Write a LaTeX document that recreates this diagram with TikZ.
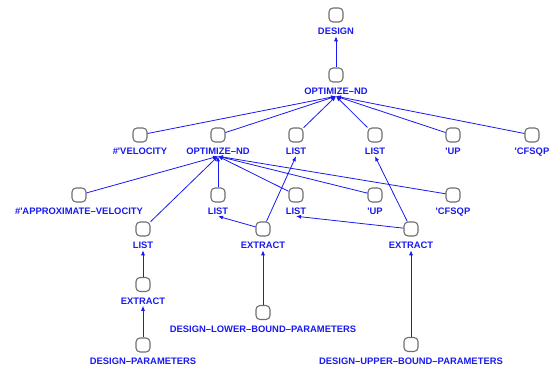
\documentclass[tikz,border=0pt]{standalone}
\usepackage{fontspec}
\newfontfamily\lblfont{Liberation Sans}
\usetikzlibrary{arrows.meta,positioning}
\definecolor{cb}{RGB}{25,25,240}
\definecolor{cg}{RGB}{112,112,112}
\newcommand{\dd}{\textendash}

\begin{document}
\begin{tikzpicture}[
  x=1pt, y=1pt,
  box/.style={draw=cg, fill=white, line width=1.1pt, rounded corners=4pt,
              minimum size=14pt, inner sep=0pt},
  lbl/.style={text=cb, font=\lblfont\bfseries\fontsize{9.4}{11}\selectfont,
              inner xsep=0pt, inner ysep=1.5pt, text height=6.8pt, text depth=0pt},
  pf/.style={draw=cb, line width=0.8pt, -{Latex[length=5pt, width=4pt]}}
]
\useasboundingbox (0,0) rectangle (554,-367);

% top
\node[box] (des) at (336,-15) {};
\node[lbl, below=3.5pt of des] (desL) {DESIGN};
\node[box] (opt1) at (336,-75) {};
\node[lbl, below=3.5pt of opt1] (opt1L) {OPTIMIZE\dd ND};

% row 2
\node[box] (vel)   at (140,-135) {};
\node[box] (opt2)  at (218,-135) {};
\node[box] (lstA)  at (296,-135) {};
\node[box] (lstB)  at (375,-135) {};
\node[box] (up1)   at (453,-135) {};
\node[box] (cfs1)  at (532,-135) {};
\node[lbl, below=3.5pt of vel]  (velL)  {\#'VELOCITY};
\node[lbl, below=3.5pt of opt2] (opt2L) {OPTIMIZE\dd ND};
\node[lbl, below=3.5pt of lstA] (lstAL) {LIST};
\node[lbl, below=3.5pt of lstB] (lstBL) {LIST};
\node[lbl, below=3.5pt of up1]  (up1L)  {'UP};
\node[lbl, below=3.5pt of cfs1] (cfs1L) {'CFSQP};

% row 3
\node[box] (apv)   at (79,-195) {};
\node[box] (lstC)  at (218,-195) {};
\node[box] (lstD)  at (296,-195) {};
\node[box] (up2)   at (375,-195) {};
\node[box] (cfs2)  at (453,-195) {};
\node[lbl, below=3.5pt of apv]  (apvL)  {\#'APPROXIMATE\dd VELOCITY};
\node[lbl, below=3.5pt of lstC] (lstCL) {LIST};
\node[lbl, below=3.5pt of lstD] (lstDL) {LIST};
\node[lbl, below=3.5pt of up2]  (up2L)  {'UP};
\node[lbl, below=3.5pt of cfs2] (cfs2L) {'CFSQP};

% extract chains
\node[box] (lstE)  at (143,-229) {};
\node[box] (extA)  at (263,-229) {};
\node[box] (extB)  at (411,-229) {};
\node[box] (extC)  at (143,-284.5) {};
\node[box] (lbp)   at (263,-312.5) {};
\node[box] (dp)    at (143,-345) {};
\node[box] (ubp)   at (411,-344.5) {};
\node[lbl, below=3.5pt of lstE] (lstEL) {LIST};
\node[lbl, below=3.5pt of extA] (extAL) {EXTRACT};
\node[lbl, below=3.5pt of extB] (extBL) {EXTRACT};
\node[lbl, below=3.5pt of extC] (extCL) {EXTRACT};
\node[lbl, below=3.5pt of lbp]  (lbpL)  {DESIGN\dd LOWER\dd BOUND\dd PARAMETERS};
\node[lbl, below=3.5pt of dp]   (dpL)   {DESIGN\dd PARAMETERS};
\node[lbl, below=3.5pt of ubp]  (ubpL)  {DESIGN\dd UPPER\dd BOUND\dd PARAMETERS};

% edges
\draw[pf] (opt1) -- (desL.south);
\foreach \n in {vel,opt2,lstA,lstB,up1,cfs1}
  \draw[pf] (\n) -- (opt1L.south);
\foreach \n in {apv,lstE,lstC,lstD,up2,cfs2}
  \draw[pf] (\n) -- (opt2L.south);
\draw[pf] (extA) -- (lstAL.south);
\draw[pf] (extA) -- (lstCL.south);
\draw[pf] (extB) -- (lstBL.south);
\draw[pf] (extB) -- (lstDL.south);
\draw[pf] (extC) -- (lstEL.south);
\draw[pf] (dp) -- (extCL.south);
\draw[pf] (lbp) -- (extAL.south);
\draw[pf] (ubp) -- (extBL.south);

\end{tikzpicture}
\end{document}
